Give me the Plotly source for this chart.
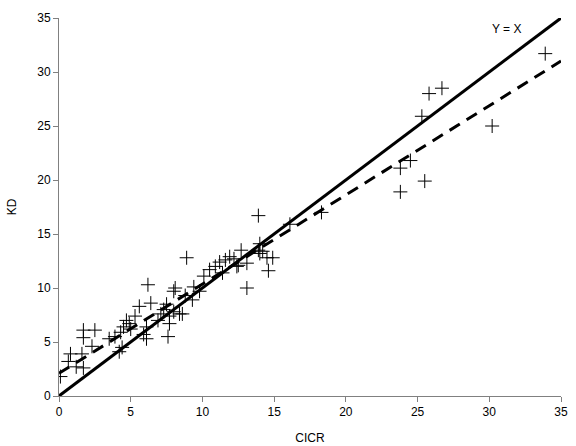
import plotly.graph_objects as go

# Scatter data (CICR vs KD)
cicr = [0.1, 0.65, 0.8, 1.2, 1.7, 1.6, 1.7, 1.7, 2.5, 2.3, 3.5, 3.9, 4.2, 4.4, 4.3,
        4.5, 4.7, 4.9, 5.0, 5.3, 5.6, 6.2, 6.4, 6.1, 6.1, 5.9, 6.9, 7.1, 7.6, 7.7,
        7.7, 7.5, 7.3, 8.0, 8.1, 8.0, 8.4, 8.6, 8.9, 8.8, 9.3, 9.4, 9.8, 10.1, 10.5,
        10.9, 11.2, 11.6, 11.4, 11.9, 12.4, 12.2, 12.5, 12.7, 13.1, 13.1, 13.9, 14.0,
        13.9, 14.2, 14.0, 14.5, 14.9, 14.6, 16.1, 18.3, 23.8, 23.8, 24.5, 25.5, 25.3,
        25.8, 26.7, 30.2, 33.9]
kd = [1.8, 3.2, 3.9, 2.7, 2.6, 3.9, 5.4, 6.1, 6.1, 4.6, 5.3, 5.5, 4.1, 4.5, 5.9,
      6.4, 7.0, 6.7, 6.2, 7.4, 8.3, 10.3, 8.6, 6.4, 5.3, 5.7, 7.0, 7.6, 5.5, 6.7,
      7.4, 8.5, 8.0, 9.7, 10.0, 7.8, 7.6, 7.6, 12.8, 9.3, 8.9, 10.1, 9.7, 11.1, 11.7,
      12.0, 12.4, 12.6, 11.4, 12.9, 12.0, 12.7, 12.1, 13.5, 12.3, 10.0, 16.7, 14.1,
      13.5, 13.4, 13.2, 12.8, 12.8, 11.6, 15.9, 17.0, 18.9, 21.1, 21.8, 19.9, 25.9,
      28.0, 28.5, 25.0, 31.7]

# Reference line Y = X and fitted regression line
line_x = [0, 35]
fit_intercept = 2.1
fit_slope = 0.826
fit_y = [fit_intercept + fit_slope * v for v in line_x]

x_ticks = [0, 5, 10, 15, 20, 25, 30, 35]
y_ticks = [0, 5, 10, 15, 20, 25, 30, 35]

fig = go.Figure()
fig.add_trace(go.Scatter(x=line_x, y=line_x, mode="lines",
                         line=dict(color="black", width=3), hoverinfo="skip"))
fig.add_trace(go.Scatter(x=line_x, y=fit_y, mode="lines",
                         line=dict(color="black", width=3, dash="12px,8px"), hoverinfo="skip"))
fig.add_trace(go.Scatter(x=cicr, y=kd, mode="markers",
                         marker=dict(symbol="cross-thin", size=10,
                                     line=dict(color="black", width=1))))

fig.add_annotation(x=31.2, y=34.0, text="Y = X", showarrow=False,
                   font=dict(size=12, color="black"))

axis_common = dict(range=[0, 35], showgrid=False, zeroline=False, showline=True,
                   linecolor="#808080", linewidth=1, ticks="outside", ticklen=5,
                   tickcolor="#808080", tickfont=dict(size=12, color="black"),
                   mirror=False, automargin=False)

fig.update_xaxes(tickvals=x_ticks, title=dict(text="CICR", font=dict(size=12, color="black"),
                 standoff=15), **axis_common)
fig.update_yaxes(tickvals=y_ticks, title=dict(text="KD", font=dict(size=12, color="black"),
                 standoff=18), **axis_common)

fig.update_layout(width=576, height=446, showlegend=False,
                  plot_bgcolor="white", paper_bgcolor="white",
                  font=dict(family="Liberation Sans, Arial, sans-serif"),
                  margin=dict(l=59, r=15, t=18, b=50))

fig.write_html("out.html")
